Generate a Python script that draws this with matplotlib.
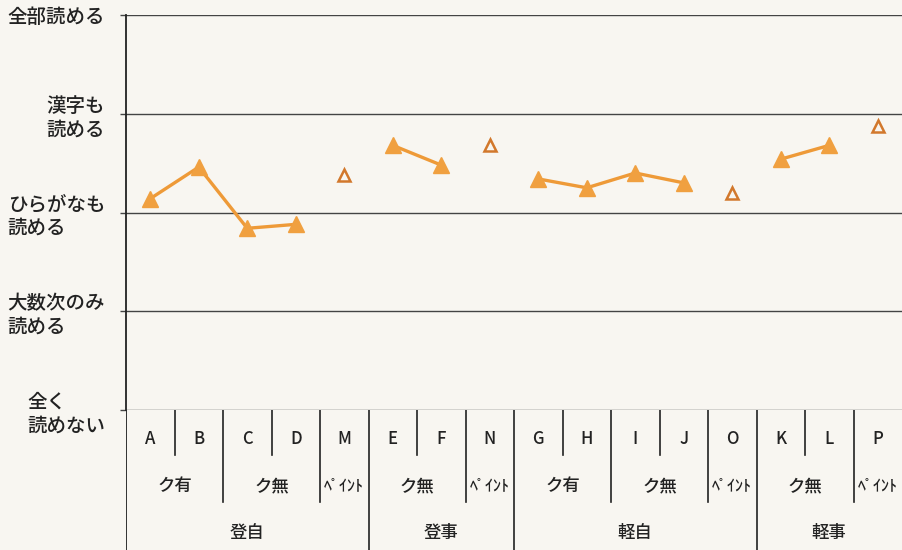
import numpy as np
import matplotlib.pyplot as plt

plt.rcParams['font.family'] = ['Noto Sans CJK JP', 'DejaVu Sans']

# 読める段階 (0=全く読めない ... 4=全部読める)
level_labels = ['全く\n読めない', '大数次のみ\n読める', 'ひらがなも\n読める', '漢字も\n読める', '全部読める']

letters = ['A', 'B', 'C', 'D', 'M', 'E', 'F', 'N', 'G', 'H', 'I', 'J', 'O', 'K', 'L', 'P']
scores = [2.14, 2.46, 1.84, 1.88, 2.38, 2.68, 2.48, 2.68,
          2.34, 2.25, 2.40, 2.30, 2.20, 2.54, 2.68, 2.88]

# 線でつなぐ区間 (始まり, 終わり) と白抜きの点
linked = [(0, 3), (5, 6), (8, 11), (13, 14)]
paint_idx = [4, 7, 12, 15]

# 下の表 (名前, 始まり, 終わり)
sub_groups = [('ク有', 0, 1), ('ク無', 2, 3), ('ﾍﾟｲﾝﾄ', 4, 4), ('ク無', 5, 6), ('ﾍﾟｲﾝﾄ', 7, 7),
              ('ク有', 8, 9), ('ク無', 10, 11), ('ﾍﾟｲﾝﾄ', 12, 12), ('ク無', 13, 14), ('ﾍﾟｲﾝﾄ', 15, 15)]
main_groups = [('登自', 0, 4), ('登事', 5, 7), ('軽自', 8, 12), ('軽事', 13, 15)]

bg = '#f8f6f1'
orange = '#f0a040'
line_c = '#ee9a38'
edge_c = '#d2782c'
ink = '#222222'

fig = plt.figure(figsize=(9.02, 5.5), dpi=100, facecolor=bg)
ax = fig.add_axes([126 / 902, 1 - 410 / 550, 1 - 126 / 902, 395 / 550])
tab = fig.add_axes([126 / 902, 0, 1 - 126 / 902, 140 / 550], sharex=ax)
for a in (ax, tab):
    a.set_facecolor('none')
    for s in a.spines.values():
        s.set_visible(False)

x = np.arange(len(letters))
for s, e in linked:
    ax.plot(x[s:e + 1], scores[s:e + 1], color=line_c, lw=2.4, zorder=2)
    ax.plot(x[s:e + 1], scores[s:e + 1], ls='none', marker='^', ms=11,
            color=orange, mec=orange, zorder=3)
ax.plot(x[paint_idx], np.array(scores)[paint_idx], ls='none', marker='^', ms=9,
        mfc=bg, mec=edge_c, mew=1.8, zorder=3)

ax.set_xlim(-0.5, len(letters) - 0.5)
ax.set_ylim(0, 4)
ax.set_yticks(range(5))
ax.set_yticklabels(level_labels, fontsize=14, color=ink, weight='medium',
                   multialignment='left', linespacing=1.3)
ax.tick_params(axis='y', length=4, width=1, color='#444444', pad=11)
ax.tick_params(axis='x', bottom=False, labelbottom=False)
ax.grid(axis='y', color='#444444', lw=1)
ax.axvline(-0.5, color=ink, lw=1.3, clip_on=False)

# 表の部分
tab.set_ylim(0, 140)
tab.axis('off')
tab.axvline(-0.5, color=ink, lw=1.3)
for i, lt in enumerate(letters):
    tab.text(i, 111, lt, ha='center', va='center', fontsize=12, color=ink, weight='medium')
for name, s, e in sub_groups:
    fs = 11.5 if 'ﾍ' in name else 12.5
    tab.text((s + e) / 2, 64, name, ha='center', va='center', fontsize=fs, color=ink,
             weight='medium')
    for i in range(s, e):
        tab.plot([i + 0.5, i + 0.5], [140, 95], color=ink, lw=1.2)
for name, s, e in main_groups:
    tab.text((s + e) / 2, 17, name, ha='center', va='center', fontsize=12.5, color=ink,
             weight='medium')
    for sn, ss, se in sub_groups:
        if s <= ss and se < e:
            tab.plot([se + 0.5, se + 0.5], [140, 48], color=ink, lw=1.2)
    if e < len(letters) - 1:
        tab.plot([e + 0.5, e + 0.5], [140, 0], color=ink, lw=1.2)

fig.savefig('out.png', dpi=100, facecolor=bg)
